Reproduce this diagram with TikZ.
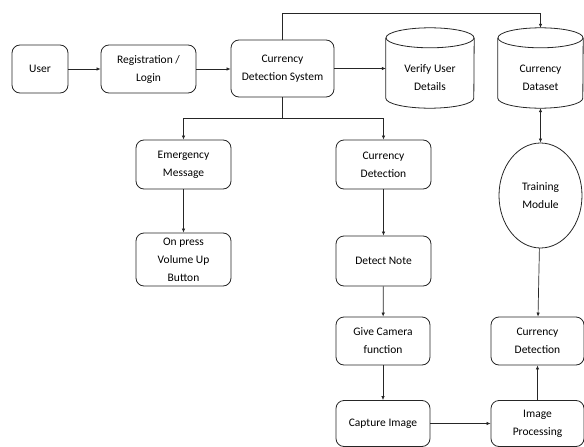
\documentclass[tikz,border=0pt]{standalone}
\usepackage{fontspec}
\setmainfont{Carlito}
\usetikzlibrary{arrows.meta,shapes.geometric}
\newcommand\drawcyl[2]{%
  \draw[ln] ([yshift=10pt]#1.north west) -- ([yshift=10pt]#1.south west)
    arc[start angle=180, end angle=360, x radius=#2, y radius=10pt]
    -- ([yshift=10pt]#1.north east);
  \draw[ln] ([yshift=10pt]#1.north) ellipse [x radius=#2, y radius=10pt];
}
\begin{document}
\begin{tikzpicture}[x=1pt,y=-1pt,
  ln/.style={draw=black!85, line width=0.8pt},
  box/.style={ln, rounded corners=8pt, align=center, inner sep=0pt,
    font=\fontsize{11.5}{18}\selectfont},
  cyl/.style={align=center, inner sep=0pt, font=\fontsize{11.5}{18}\selectfont},
  arr/.style={ln, line width=0.7pt, -{Latex[length=4pt,width=3.5pt]}},
  darr/.style={ln, line width=0.7pt, {Latex[length=4pt,width=3.5pt]}-{Latex[length=4pt,width=3.5pt]}}]
\useasboundingbox (0,0) rectangle (584,447);
\node[box, minimum width=56pt, minimum height=48pt] (user) at (40,69) {User};
\node[box, minimum width=95pt, minimum height=48pt] (reg) at (148.5,69) {Registration /\\Login};
\node[box, minimum width=103pt, minimum height=57pt] (cds) at (282.5,68.5) {Currency\\Detection System};
\node[cyl, minimum width=88pt, minimum height=60pt] (verify) at (430,78) {Verify User\\Details};
\node[cyl, minimum width=85pt, minimum height=60pt] (data) at (540.5,78) {Currency\\Dataset};
\drawcyl{verify}{44pt}
\drawcyl{data}{42.5pt}
\node[box, minimum width=95pt, minimum height=49pt] (em) at (183.5,164.5) {Emergency\\Message};
\node[box, minimum width=95pt, minimum height=49pt] (cd1) at (383.5,164.5) {Currency\\Detection};
\node[box, minimum width=95pt, minimum height=53pt] (press) at (183.5,259.5) {On press\\Volume Up\\Button};
\node[box, minimum width=95pt, minimum height=50pt] (note) at (383.5,261) {Detect Note};
\node[box, minimum width=94pt, minimum height=48pt] (cam) at (383,341) {Give Camera\\function};
\node[box, minimum width=94pt, minimum height=46pt] (cap) at (383,423.5) {Capture Image};
\node[box, minimum width=93pt, minimum height=46pt] (proc) at (537.5,423.5) {Image\\Processing};
\node[box, minimum width=93pt, minimum height=48pt] (cd2) at (537.5,341) {Currency\\Detection};
\node[ln, ellipse, minimum width=83pt, minimum height=105pt, inner sep=0pt, align=center,
  font=\fontsize{11.5}{18}\selectfont] (train) at (540.5,195.5) {Training\\Module};
\coordinate (split) at (282.5,118);
\coordinate (top) at (282.5,13);
\draw[arr] (user) -- (reg);
\draw[arr] (reg.east) -- (cds.west |- reg.east);
\draw[arr] (cds.east) -- (cds.east -| verify.west);
\draw[arr] (cds.north) -- (top) -| ([yshift=20pt]data.north);
\draw[ln, line width=0.7pt] (cds.south) -- (split);
\draw[arr] (split) -| (em.north);
\draw[arr] (split) -| (cd1.north);
\draw[arr] (em) -- (press);
\draw[arr] (cd1) -- (note);
\draw[arr] (note) -- (cam);
\draw[arr] (cam) -- (cap);
\draw[arr] (cap) -- (proc);
\draw[arr] (proc) -- (cd2);
\draw[arr] (train) -- (cd2);
\draw[darr] (data.south) -- (train.north);
\end{tikzpicture}
\end{document}
